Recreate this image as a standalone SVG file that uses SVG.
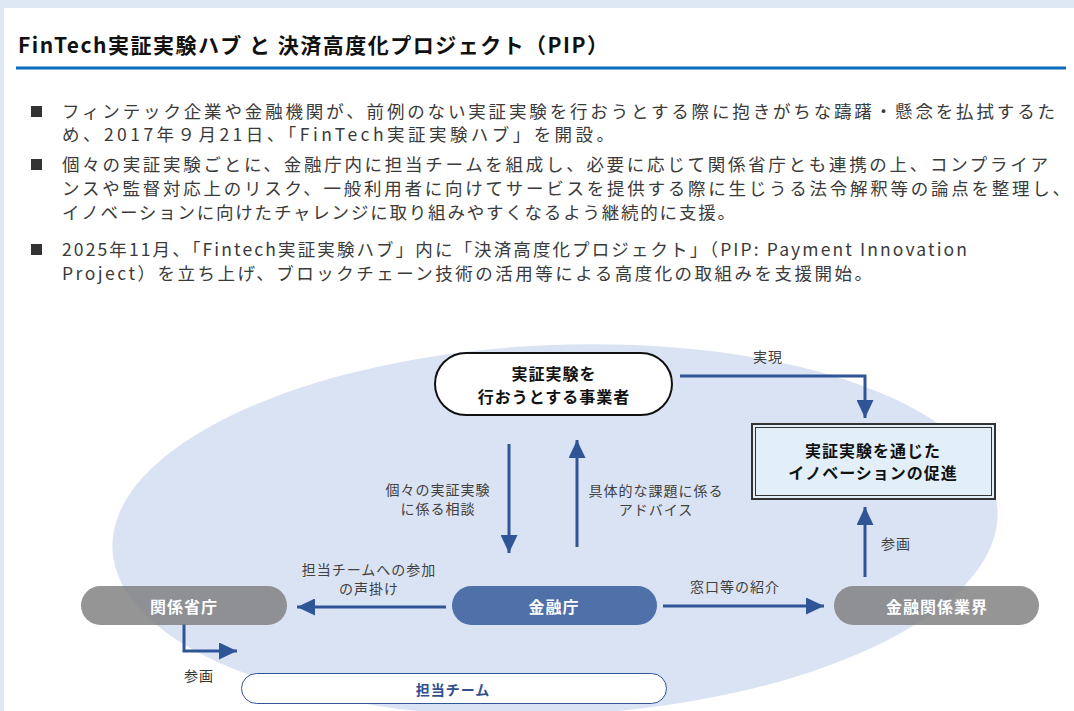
<svg xmlns="http://www.w3.org/2000/svg" width="1074" height="711" viewBox="0 0 1074 711">
<style>
.jp{font-family:"Noto Sans CJK JP","Noto Sans",sans-serif;}
.body{font-size:17.5px;fill:#3a3a3a;}
.lbl{font-size:14px;fill:#404040;letter-spacing:1px;text-anchor:middle;dominant-baseline:central;}
.nd{font-size:16px;font-weight:bold;fill:#111;letter-spacing:1px;text-anchor:middle;dominant-baseline:central;}
.wt{font-size:16px;font-weight:bold;fill:#fff;letter-spacing:1px;text-anchor:middle;dominant-baseline:central;}
.conn{fill:none;stroke:#2f5597;stroke-width:3;}
</style>
<defs>
<marker id="ah" markerUnits="userSpaceOnUse" viewBox="0 0 18 17" refX="18" refY="8.5" markerWidth="18" markerHeight="17" orient="auto">
<path d="M0,0 L18,8.5 L0,17 Z" fill="#2f5597"/>
</marker>
</defs>
<rect x="0" y="0" width="1074" height="711" fill="#dde8f4"/>
<rect x="4" y="8" width="1070" height="703" fill="#ffffff"/>
<g id="header">
<text class="jp" x="18" y="53" font-size="21" font-weight="bold" fill="#111" textLength="590" lengthAdjust="spacing">FinTech実証実験ハブ と 決済高度化プロジェクト（PIP）</text>
<rect x="16" y="66.5" width="1050" height="3" fill="#0a6cbf"/>
</g>
<g id="bullets" class="jp body">
<rect x="31" y="106" width="11" height="11" fill="#333"/>
<rect x="31" y="159" width="11" height="11" fill="#333"/>
<rect x="31" y="244" width="11" height="11" fill="#333"/>
<text x="62" y="117.5" textLength="993" lengthAdjust="spacing">フィンテック企業や金融機関が、前例のない実証実験を行おうとする際に抱きがちな躊躇・懸念を払拭するた</text>
<text x="62" y="140.5" textLength="552" lengthAdjust="spacing">め、2017年９月21日、「FinTech実証実験ハブ」を開設。</text>
<text x="62" y="170.5" textLength="986" lengthAdjust="spacing">個々の実証実験ごとに、金融庁内に担当チームを組成し、必要に応じて関係省庁とも連携の上、コンプライア</text>
<text x="62" y="194.5" textLength="1008" lengthAdjust="spacing">ンスや監督対応上のリスク、一般利用者に向けてサービスを提供する際に生じうる法令解釈等の論点を整理し、</text>
<text x="62" y="218.5" textLength="673" lengthAdjust="spacing">イノベーションに向けたチャレンジに取り組みやすくなるよう継続的に支援。</text>
<text x="62" y="255.5" textLength="905" lengthAdjust="spacing">2025年11月、「Fintech実証実験ハブ」内に「決済高度化プロジェクト」（PIP: Payment Innovation</text>
<text x="62" y="279.5" textLength="810" lengthAdjust="spacing">Project）を立ち上げ、ブロックチェーン技術の活用等による高度化の取組みを支援開始。</text>
</g>
<ellipse id="scope" cx="555" cy="530" rx="443" ry="185" transform="rotate(-2.5 555 530)" fill="#dae3f3"/>
<g id="connectors">
<path class="conn" d="M680,376 H865 V418" marker-end="url(#ah)"/>
<path class="conn" d="M509,444 V553" marker-end="url(#ah)"/>
<path class="conn" d="M577,547 V440" marker-end="url(#ah)"/>
<path class="conn" d="M446,607 H297" marker-end="url(#ah)"/>
<path class="conn" d="M663,606 H824" marker-end="url(#ah)"/>
<path class="conn" d="M865,577 V507" marker-end="url(#ah)"/>
<path class="conn" d="M184,624 V651 H237" marker-end="url(#ah)"/>
<g class="jp">
<text class="lbl" x="768" y="356">実現</text>
<text class="lbl" x="438" y="489">個々の実証実験</text>
<text class="lbl" x="438" y="508">に係る相談</text>
<text class="lbl" x="656" y="490">具体的な課題に係る</text>
<text class="lbl" x="656" y="509">アドバイス</text>
<text class="lbl" x="896" y="543">参画</text>
<text class="lbl" x="369" y="569">担当チームへの参加</text>
<text class="lbl" x="369" y="588">の声掛け</text>
<text class="lbl" x="735" y="586">窓口等の紹介</text>
<text class="lbl" x="199" y="675" style="fill:#333">参画</text>
</g>
</g>
<g id="node-jigyosha">
<rect x="435" y="353" width="237" height="62" rx="31" fill="#fff" stroke="#111" stroke-width="2"/>
<text class="jp nd" x="554" y="373">実証実験を</text>
<text class="jp nd" x="554" y="396">行おうとする事業者</text>
</g>
<g id="node-sokushin">
<rect x="752" y="424" width="243" height="75" fill="#e2eff9" stroke="#333" stroke-width="2"/>
<rect x="755.5" y="427.5" width="236" height="68" fill="none" stroke="#333" stroke-width="1"/>
<text class="jp nd" x="873" y="450">実証実験を通じた</text>
<text class="jp nd" x="873" y="472">イノベーションの促進</text>
</g>
<g id="node-kankei-shocho">
<rect x="81" y="586" width="206" height="39" rx="19.5" fill="#7a7a7a" fill-opacity="0.8"/>
<text class="jp wt" x="184" y="606">関係省庁</text>
</g>
<g id="node-kinyucho">
<rect x="452" y="586" width="205" height="39" rx="19.5" fill="#4f70a8"/>
<text class="jp wt" x="554" y="606">金融庁</text>
</g>
<g id="node-gyokai">
<rect x="834" y="586" width="205" height="39" rx="19.5" fill="#7a7a7a" fill-opacity="0.8"/>
<text class="jp wt" x="937" y="606">金融関係業界</text>
</g>
<g id="node-team">
<rect x="241.5" y="673.5" width="425" height="30" rx="15" fill="#fff" stroke="#2f5597" stroke-width="1"/>
<text class="jp" x="453" y="689" font-size="14" font-weight="bold" fill="#2f4f8f" letter-spacing="1" text-anchor="middle" dominant-baseline="central">担当チーム</text>
</g>
</svg>
